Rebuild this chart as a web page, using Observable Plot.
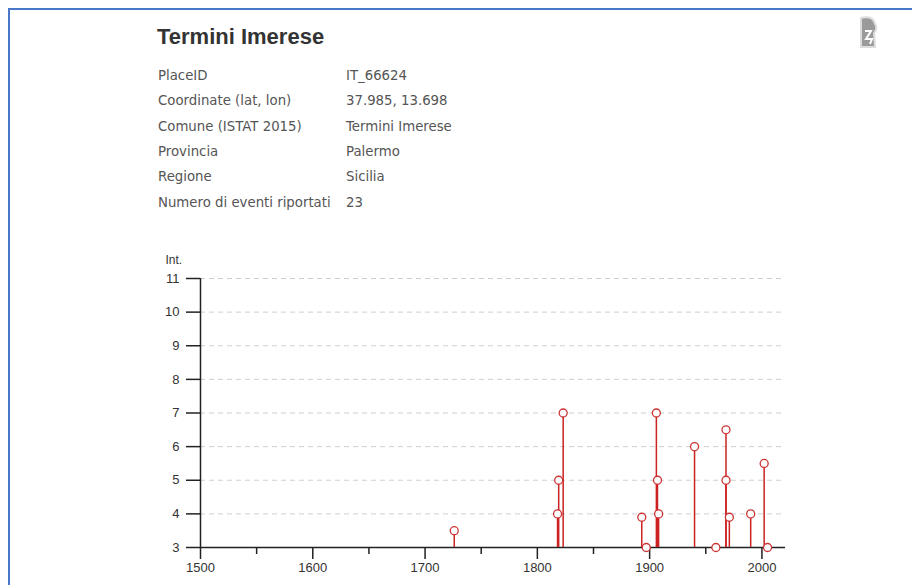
<!DOCTYPE html>
<html>
<head>
<meta charset="utf-8">
<script src="https://cdn.jsdelivr.net/npm/d3@7"></script>
<script src="https://cdn.jsdelivr.net/npm/@observablehq/plot@0.6"></script>
<style>
  html, body { margin: 0; padding: 0; background: #fff; }
  body { width: 912px; height: 585px; position: relative; overflow: hidden; }
  #frameTop { position: absolute; left: 8px; top: 8px; width: 904px; height: 2px; background: #4a78c8; }
  #frameLeft { position: absolute; left: 8px; top: 8px; width: 2px; height: 577px; background: #4a78c8; }
  #title { position: absolute; left: 157px; top: 24px; font: bold 22px "Liberation Sans", Arial, sans-serif; color: #333; }
  #info { position: absolute; left: 158px; top: 63px; font: 13.3px "DejaVu Sans", Verdana, sans-serif; color: #555; border-collapse: collapse; }
  #info td { padding: 0; height: 25.3px; vertical-align: middle; }
  #info td.k { width: 188px; }
  #chart { position: absolute; left: 140px; top: 240px; }
  #icon { position: absolute; left: 858px; top: 15px; }
</style>
</head>
<body>
<div id="frameTop"></div>
<div id="frameLeft"></div>
<svg id="icon" width="22" height="38" viewBox="0 0 22 38">
  <path d="M3 3 Q15 0 17 9 Q20 13 16 18 L17 32 L3 32 Z" fill="#9a9a9a" stroke="#dcdcdc" stroke-width="2"/>
  <path d="M7 16 L13 16 L8 24 L14 24 L12 29" fill="none" stroke="#fff" stroke-width="2"/>
</svg>
<div id="title"></div>
<table id="info"></table>
<div id="chart"></div>
<script>
// ---- Data ----
const placeName = "Termini Imerese";
const infoLabels = ["PlaceID", "Coordinate (lat, lon)", "Comune (ISTAT 2015)", "Provincia", "Regione", "Numero di eventi riportati"];
const infoValues = ["IT_66624", "37.985, 13.698", "Termini Imerese", "Palermo", "Sicilia", "23"];

const years       = [1726, 1818, 1819, 1823, 1893, 1897, 1906, 1907, 1908, 1940, 1959, 1968, 1968, 1971, 1990, 2002, 2005];
const intensities = [3.5,  4,    5,    7,    3.9,  3,    7,    5,    4,    6,    3,    6.5,  5,    3.9,  4,    5.5,  3];

const yTicks = [3, 4, 5, 6, 7, 8, 9, 10, 11];
const xMajorTicks = [1500, 1600, 1700, 1800, 1900, 2000];
const xMinorTicks = [1550, 1650, 1750, 1850, 1950];
const yAxisLabel = "Int.";

// ---- Header ----
document.getElementById("title").textContent = placeName;
const table = document.getElementById("info");
infoLabels.forEach((k, i) => {
  const tr = document.createElement("tr");
  const a = document.createElement("td"); a.className = "k"; a.textContent = k;
  const b = document.createElement("td"); b.textContent = infoValues[i];
  tr.appendChild(a); tr.appendChild(b); table.appendChild(tr);
});

// ---- Chart ----
const events = years.map((y, i) => ({year: y, int: intensities[i]}));
const red = "#cc2222";

const chart = Plot.plot({
  width: 660,
  height: 345,
  marginLeft: 60,
  marginRight: 15,
  marginTop: 38,
  marginBottom: 38,
  style: {fontFamily: "'Liberation Sans', Arial, sans-serif", fontSize: "13px", color: "#333", background: "transparent"},
  x: {domain: [1500, 2021], label: null},
  y: {domain: [3, 11], label: null},
  marks: [
    Plot.ruleY(yTicks.filter(d => d > 3), {stroke: "#cfcfcf", strokeDasharray: "5,4", strokeWidth: 1}),
    Plot.axisY({ticks: yTicks, tickSize: 14, tickPadding: 7, tickFormat: d => String(d), stroke: "#222", strokeWidth: 1.5, fill: "#333"}),
    Plot.axisX({ticks: xMajorTicks, tickSize: 12, tickPadding: 3, tickFormat: d => String(d), stroke: "#222", strokeWidth: 1.5, fill: "#333"}),
    Plot.axisX({ticks: xMinorTicks, tickSize: 7, tickFormat: () => "", stroke: "#222", strokeWidth: 1.5}),
    Plot.ruleX([1500], {y1: 3, y2: 11, stroke: "#222", strokeWidth: 1.5}),
    Plot.ruleY([3], {stroke: "#222", strokeWidth: 1.5}),
    Plot.ruleX(events, {x: "year", y1: 3, y2: "int", stroke: red, strokeWidth: 1.5}),
    Plot.dot(events, {x: "year", y: "int", r: 4, fill: "white", stroke: "#cc3333", strokeWidth: 1.3}),
    Plot.text([yAxisLabel], {frameAnchor: "top-left", dx: -35, dy: -23, textAnchor: "start", fill: "#333", fontSize: 12})
  ]
});
document.getElementById("chart").appendChild(chart);
</script>
</body>
</html>
